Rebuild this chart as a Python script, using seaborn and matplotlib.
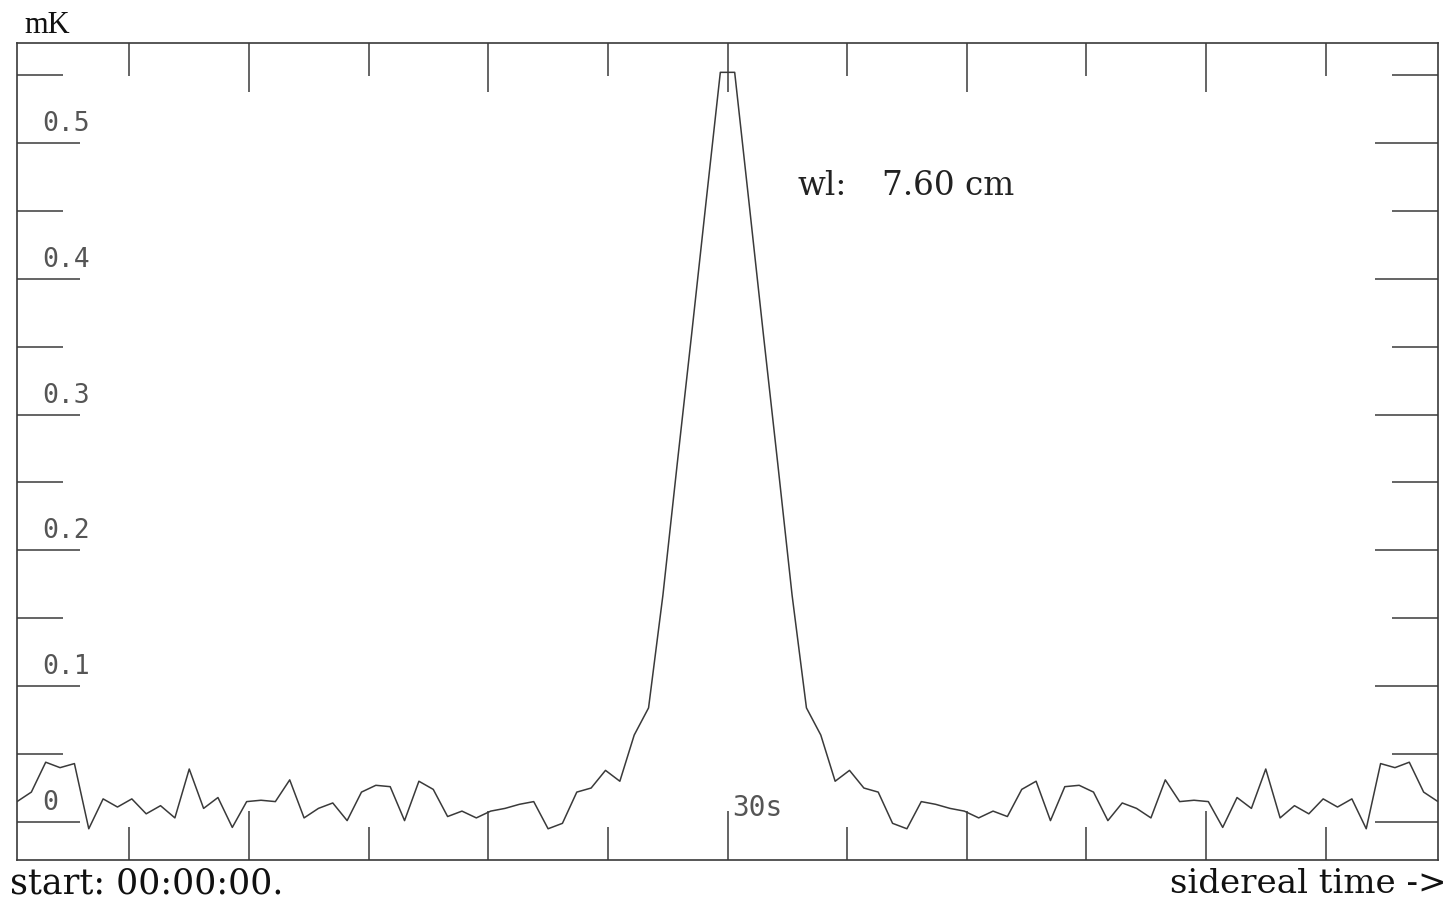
import numpy as np
import pandas as pd
import matplotlib
matplotlib.use("Agg")
import matplotlib.pyplot as plt
import seaborn as sns
from matplotlib.ticker import FixedLocator

# ---- data -------------------------------------------------------------
# 100 samples of 0.6 s each, centred on 30 s
sample_seconds = np.round(0.3 + 0.6 * np.arange(100), 1)
signal_mK = [
    0.015, 0.022, 0.044, 0.040, 0.043, -0.005, 0.017, 0.011, 0.017, 0.006,
    0.012, 0.003, 0.039, 0.010, 0.018, -0.004, 0.015, 0.016, 0.015, 0.031,
    0.003, 0.010, 0.014, 0.001, 0.022, 0.027, 0.026, 0.001, 0.030, 0.024,
    0.004, 0.008, 0.003, 0.008, 0.010, 0.013, 0.015, -0.005, -0.001, 0.022,
    0.025, 0.038, 0.030, 0.064, 0.084, 0.167, 0.264, 0.359, 0.456, 0.552,
    0.552, 0.456, 0.359, 0.264, 0.167, 0.084, 0.064, 0.030, 0.038, 0.025,
    0.022, -0.001, -0.005, 0.015, 0.013, 0.010, 0.008, 0.003, 0.008, 0.004,
    0.024, 0.030, 0.001, 0.026, 0.027, 0.022, 0.001, 0.014, 0.010, 0.003,
    0.031, 0.015, 0.016, 0.015, -0.004, 0.018, 0.010, 0.039, 0.003, 0.012,
    0.006, 0.017, 0.011, 0.017, -0.005, 0.043, 0.040, 0.044, 0.022, 0.015,
]
y_tick_values = [0.0, 0.1, 0.2, 0.3, 0.4, 0.5]
y_tick_labels = ["0", "0.1", "0.2", "0.3", "0.4", "0.5"]
y_minor_values = [0.05, 0.15, 0.25, 0.35, 0.45, 0.55]
x_major_values = [10, 20, 30, 40, 50]
x_minor_values = [5, 15, 25, 35, 45, 55]
center_label = "30s"
y_unit = "mK"
wavelength_label = "wl:"
wavelength_value = "7.60 cm"
start_text = "start: 00:00:00."
axis_text = "sidereal time ->"

df = pd.DataFrame({"t": sample_seconds, "T": signal_mK})

# ---- style ------------------------------------------------------------
sns.set_style("white")
plt.rcParams["font.family"] = ["DejaVu Sans"]
ink = "#3a3a3a"
serif = ["DejaVu Serif"]

fig = plt.figure(figsize=(14.5, 9), dpi=100)
ax = fig.add_axes([17 / 1450, 40 / 900, 1421 / 1450, 817 / 900])

sns.lineplot(data=df, x="t", y="T", ax=ax, color=ink, linewidth=1.1,
             estimator=None, sort=False)

ax.set_xlim(0.3, 59.7)
ax.set_ylim(-0.028, 0.5736)
ax.set_xlabel("")
ax.set_ylabel("")

for s in ax.spines.values():
    s.set_color(ink)
    s.set_linewidth(1.2)
    s.set_visible(True)

ax.xaxis.set_major_locator(FixedLocator(x_major_values))
ax.xaxis.set_minor_locator(FixedLocator(x_minor_values))
ax.yaxis.set_major_locator(FixedLocator(y_tick_values))
ax.yaxis.set_minor_locator(FixedLocator(y_minor_values))

ax.tick_params(axis="y", which="major", direction="in", length=45.4, width=1.1,
               color=ink, left=True, right=True, labelleft=False, labelright=False)
ax.tick_params(axis="y", which="minor", direction="in", length=33.1, width=1.1,
               color=ink, left=True, right=True)
ax.tick_params(axis="x", which="major", direction="in", length=35.3, width=1.1,
               color=ink, top=True, bottom=True, labelbottom=False, labeltop=False)
ax.tick_params(axis="x", which="minor", direction="in", length=23.5, width=1.1,
               color=ink, top=True, bottom=True)

# y tick labels drawn inside, sitting on the tick lines
ytrans = ax.get_yaxis_transform()
for v, lab in zip(y_tick_values, y_tick_labels):
    ax.annotate(lab, xy=(0.0176, v), xycoords=ytrans, xytext=(0, 12),
                textcoords="offset pixels", ha="left", va="baseline",
                fontsize=19, family=["DejaVu Sans Mono"], color="#555555")

# centre time label
ax.annotate(center_label, xy=(30, 0), xycoords="data", xytext=(5, 6),
            textcoords="offset pixels", ha="left", va="baseline",
            fontsize=20, family=["DejaVu Sans Mono"], color="#555555")

# wavelength annotation (label and value, as in the original layout)
ax.text((797 - 17) / 1421, (860 - 195) / 817, wavelength_label,
        transform=ax.transAxes, ha="left", va="baseline",
        fontsize=23.5, family=serif, color="#222222")
ax.text((882 - 17) / 1421, (860 - 195) / 817, wavelength_value,
        transform=ax.transAxes, ha="left", va="baseline",
        fontsize=23.5, family=serif, color="#222222")

# unit and footer texts
fig.text(24 / 1450, (900 - 33) / 900, y_unit, ha="left", va="baseline",
         fontsize=22, family=["Liberation Serif"], color="#111111")
fig.text(10 / 1450, (900 - 893) / 900, start_text, ha="left", va="baseline",
         fontsize=25, family=serif, color="#111111")
fig.text(1446 / 1450, (900 - 893) / 900, axis_text, ha="right", va="baseline",
         fontsize=24.5, family=serif, color="#111111")

fig.savefig("out.png", dpi=100, facecolor="white")
